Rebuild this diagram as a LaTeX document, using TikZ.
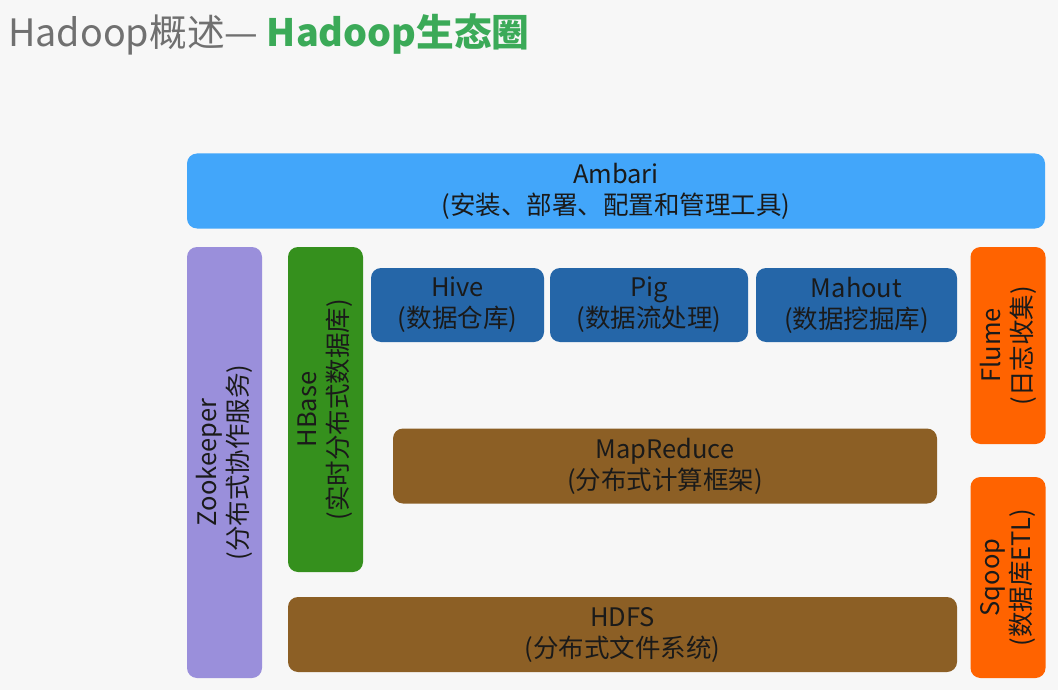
\documentclass[tikz,border=0pt]{standalone}
\usepackage{fontspec}
\setmainfont{Noto Sans CJK SC}
\definecolor{bgcol}{HTML}{F7F7F7}
\definecolor{titlegray}{HTML}{707070}
\definecolor{titlegreen}{HTML}{3BAA58}
\definecolor{ambaricol}{HTML}{42A6FA}
\definecolor{zkcol}{HTML}{9A8FDB}
\definecolor{hbasecol}{HTML}{35901D}
\definecolor{toolcol}{HTML}{2566A8}
\definecolor{corecol}{HTML}{8C5F25}
\definecolor{etlcol}{HTML}{FF6300}
\definecolor{txtcol}{HTML}{1A1A1A}
\begin{document}
\begin{tikzpicture}[x=1pt, y=-1pt,
  layer/.style={rectangle, rounded corners=10pt, align=center, inner sep=0pt, text=txtcol, font=\fontsize{25.5}{31}\selectfont},
  upright/.style={layer, rotate=90}]
\useasboundingbox[fill=bgcol] (0,0) rectangle (1058,690);
\node (title)[anchor=base west, inner sep=0pt, font=\fontsize{37.7}{40}\selectfont] at (8,47) {\textcolor{titlegray}{Hadoop概述—} \textcolor{titlegreen}{\bfseries Hadoop生态圈}};
\node (ambari)[layer, fill=ambaricol, minimum width=858pt, minimum height=75pt] at (616,191) {Ambari\\(安装、部署、配置和管理工具)};
\node (zk)[upright, fill=zkcol, minimum width=431pt, minimum height=75pt] at (224.5,462.5) {Zookeeper\\(分布式协作服务)};
\node (hbase)[upright, fill=hbasecol, minimum width=325pt, minimum height=75pt] at (325.5,409.5) {HBase\\(实时分布式数据库)};
\node (hive)[layer, fill=toolcol, minimum width=173pt, minimum height=74pt] at (457.5,305) {Hive\\(数据仓库)};
\node (pig)[layer, fill=toolcol, minimum width=198pt, minimum height=74pt] at (649,305) {Pig\\(数据流处理)};
\node (mahout)[layer, fill=toolcol, minimum width=201pt, minimum height=74pt] at (856.5,305) {Mahout\\(数据挖掘库)};
\node (mapreduce)[layer, fill=corecol, minimum width=544pt, minimum height=75pt] at (665,466) {MapReduce\\(分布式计算框架)};
\node (hdfs)[layer, fill=corecol, minimum width=669pt, minimum height=75pt] at (622.5,634.5) {HDFS\\(分布式文件系统)};
\node (flume)[upright, fill=etlcol, minimum width=197pt, minimum height=75pt] at (1008,345.5) {Flume\\(日志收集)};
\node (sqoop)[upright, fill=etlcol, minimum width=201pt, minimum height=75pt] at (1008,577.5) {Sqoop\\(数据库ETL)};
\end{tikzpicture}
\end{document}
